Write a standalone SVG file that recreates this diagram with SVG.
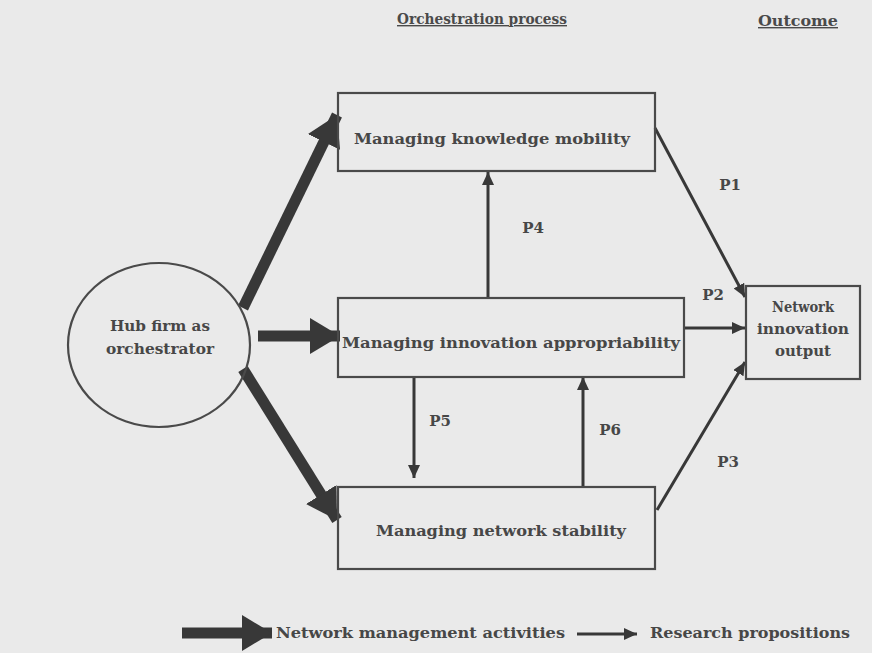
<svg xmlns="http://www.w3.org/2000/svg" width="872" height="653" viewBox="0 0 872 653">
  <style>
    .bg { fill: #eaeaea; }
    .node { fill: none; stroke: #4a4a4a; stroke-width: 2.2; }
    .lbl { font-family: "DejaVu Serif", "Liberation Serif", serif; font-weight: bold; font-size: 15px; fill: #474747; text-anchor: middle; }
    .hdr { font-family: "DejaVu Serif", "Liberation Serif", serif; font-weight: bold; font-size: 14px; fill: #4a4a4a; text-decoration: underline; }
    .thick { stroke: #383838; stroke-width: 11; fill: none; marker-end: url(#bighead); }
    .thin { stroke: #383838; stroke-width: 3; fill: none; marker-end: url(#smallhead); }
  </style>
  <defs>
    <marker id="bighead" markerUnits="userSpaceOnUse" markerWidth="32" markerHeight="36" refX="30" refY="18" orient="auto">
      <path d="M0,0 L30,18 L0,36 Z" fill="#383838"/>
    </marker>
    <marker id="smallhead" markerUnits="userSpaceOnUse" markerWidth="14" markerHeight="12" refX="13" refY="6" orient="auto">
      <path d="M0,0 L13,6 L0,12 Z" fill="#383838"/>
    </marker>
  </defs>

  <rect class="bg" x="0" y="0" width="872" height="653"/>

  <!-- column headings -->
  <text class="hdr" x="397" y="24" textLength="170" lengthAdjust="spacingAndGlyphs">Orchestration process</text>
  <text class="hdr" x="758" y="26" textLength="80" lengthAdjust="spacingAndGlyphs">Outcome</text>

  <!-- connectors -->
  <g id="connectors">
    <line class="thick" x1="243" y1="308" x2="337" y2="115"/>
    <line class="thick" x1="258" y1="336" x2="340" y2="336"/>
    <line class="thick" x1="243" y1="369" x2="337" y2="520"/>
    <line class="thin" x1="655" y1="128" x2="745" y2="297"/>
    <line class="thin" x1="684" y1="328" x2="745" y2="328"/>
    <line class="thin" x1="657" y1="510" x2="745" y2="362"/>
    <line class="thin" x1="488" y1="298" x2="488" y2="172"/>
    <line class="thin" x1="414" y1="377" x2="414" y2="478"/>
    <line class="thin" x1="583" y1="487" x2="583" y2="377"/>
    <text class="lbl" x="730" y="190">P1</text>
    <text class="lbl" x="713" y="300">P2</text>
    <text class="lbl" x="728" y="467">P3</text>
    <text class="lbl" x="533" y="233">P4</text>
    <text class="lbl" x="440" y="426">P5</text>
    <text class="lbl" x="610" y="435">P6</text>
  </g>

  <g id="hub">
    <ellipse class="node" cx="159" cy="345" rx="91" ry="82"/>
    <text class="lbl" x="160" y="331" textLength="100" lengthAdjust="spacingAndGlyphs">Hub firm as</text>
    <text class="lbl" x="160" y="354" textLength="108" lengthAdjust="spacingAndGlyphs">orchestrator</text>
  </g>

  <g id="knowledge">
    <rect class="node" x="338" y="93" width="317" height="78"/>
    <text class="lbl" x="492" y="144" textLength="276" lengthAdjust="spacingAndGlyphs">Managing knowledge mobility</text>
  </g>

  <g id="appropriability">
    <rect class="node" x="338" y="298" width="346" height="79"/>
    <text class="lbl" x="511" y="348" textLength="338" lengthAdjust="spacingAndGlyphs">Managing innovation appropriability</text>
  </g>

  <g id="stability">
    <rect class="node" x="338" y="487" width="317" height="82"/>
    <text class="lbl" x="501" y="536" textLength="250" lengthAdjust="spacingAndGlyphs">Managing network stability</text>
  </g>

  <g id="outcome">
    <rect class="node" x="746" y="286" width="114" height="93"/>
    <text class="lbl" x="803" y="312" textLength="62" lengthAdjust="spacingAndGlyphs">Network</text>
    <text class="lbl" x="803" y="334" textLength="92" lengthAdjust="spacingAndGlyphs">innovation</text>
    <text class="lbl" x="803" y="356" textLength="56" lengthAdjust="spacingAndGlyphs">output</text>
  </g>

  <!-- legend -->
  <g id="legend">
    <line class="thick" x1="182" y1="633" x2="272" y2="633"/>
    <text class="lbl" x="276" y="638" style="text-anchor:start" textLength="289" lengthAdjust="spacingAndGlyphs">Network management activities</text>
    <line class="thin" x1="577" y1="634" x2="637" y2="634"/>
    <text class="lbl" x="650" y="638" style="text-anchor:start" textLength="200" lengthAdjust="spacingAndGlyphs">Research propositions</text>
  </g>
</svg>
